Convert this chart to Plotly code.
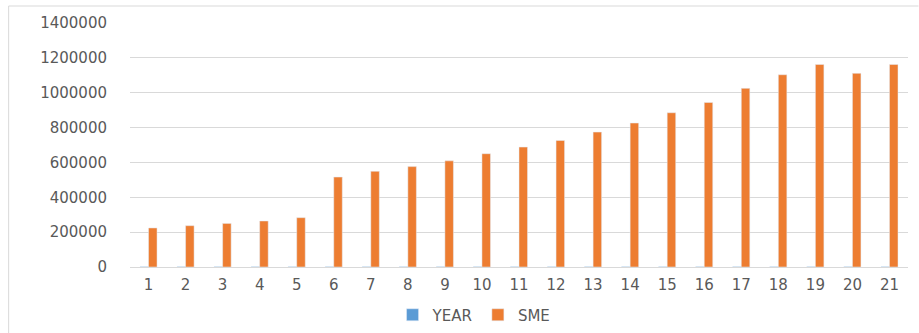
import plotly.graph_objects as go

categories = [str(i) for i in range(1, 22)]
year_values = list(range(1998, 2019))
sme_values = [224000, 237000, 250000, 264000, 283000, 516000, 549000, 576000, 609000,
              650000, 688000, 726000, 774000, 826000, 885000, 944000, 1025000, 1103000,
              1162000, 1111000, 1162000]
y_ticks = [0, 200000, 400000, 600000, 800000, 1000000, 1200000, 1400000]

fig = go.Figure()
fig.add_trace(go.Bar(x=categories, y=year_values, name="YEAR", marker_color="#5B9BD5"))
fig.add_trace(go.Bar(x=categories, y=sme_values, name="SME", marker_color="#ED7D31"))

L, R, T, B = 129.5, 908.5, 23, 267
W, H = 919, 333

def px2paper_x(px):
    return (px - L) / (R - L)

def px2paper_y(py):
    return (B - py) / (B - T)

border = dict(color="#d9d9d9", width=1)

fig.update_layout(
    width=W, height=H,
    margin=dict(l=L, r=W - R, t=T, b=H - B, pad=0, autoexpand=False),
    paper_bgcolor="white", plot_bgcolor="white",
    barmode="group", bargap=0.54, bargroupgap=0.0,
    font=dict(family="DejaVu Sans", size=15, color="#595959"),
    showlegend=True,
    legend=dict(orientation="h", x=px2paper_x(474), xanchor="center",
                y=px2paper_y(315), yanchor="middle", itemwidth=30,
                font=dict(family="DejaVu Sans", size=15, color="#595959")),
    xaxis=dict(type="category", showgrid=False, showline=True, linecolor="#d9d9d9",
               linewidth=1, ticks="outside", ticklen=4, tickcolor="rgba(0,0,0,0)",
               tickfont=dict(size=15, color="#595959")),
    yaxis=dict(range=[0, 1400000], tickvals=y_ticks, ticktext=[str(v) for v in y_ticks],
               showgrid=True, gridcolor="#d9d9d9", gridwidth=1, zeroline=False,
               showline=False, ticks="", ticklabelstandoff=22,
               tickfont=dict(size=15, color="#595959")),
    shapes=[
        dict(type="line", xref="paper", yref="paper",
             x0=px2paper_x(8), x1=px2paper_x(919), y0=px2paper_y(6), y1=px2paper_y(6),
             line=border, layer="below"),
        dict(type="line", xref="paper", yref="paper",
             x0=px2paper_x(8), x1=px2paper_x(8), y0=px2paper_y(6), y1=px2paper_y(333),
             line=border, layer="below"),
    ],
)

fig.write_html("out.html")
